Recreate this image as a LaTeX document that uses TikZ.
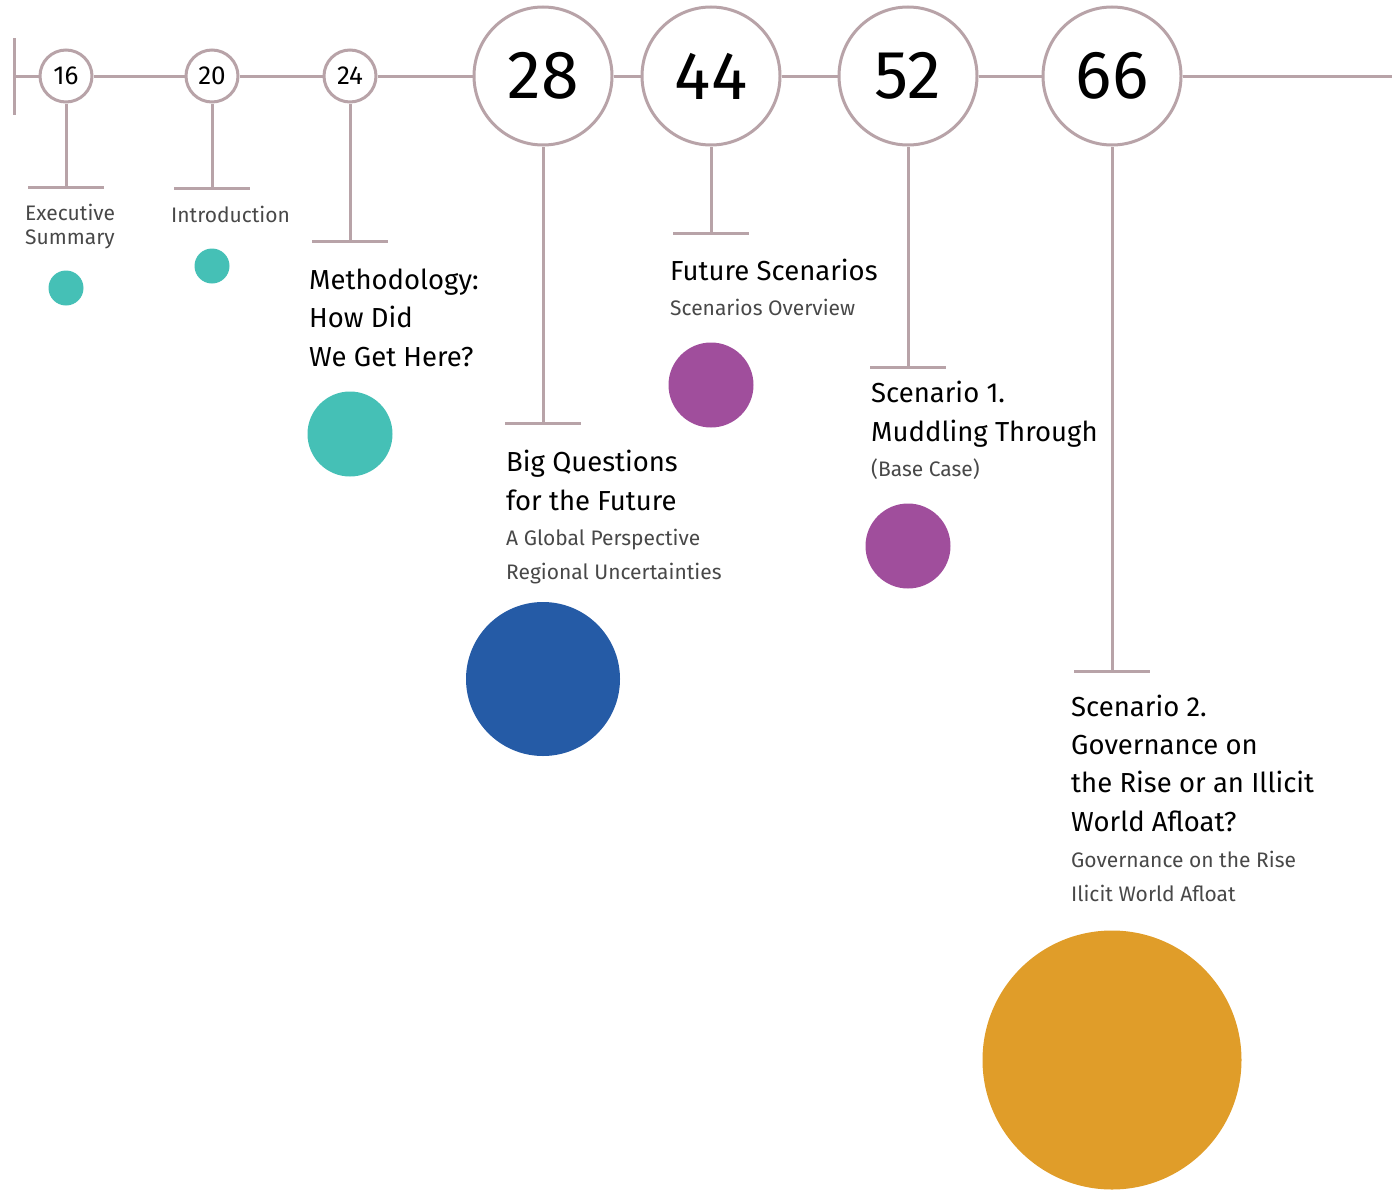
\documentclass[tikz,border=0pt]{standalone}
\usepackage{fontspec}
\setmainfont{Fira Sans}
\definecolor{linec}{HTML}{B8A3A8}
\definecolor{teal}{HTML}{45C0B6}
\definecolor{purp}{HTML}{A04E9C}
\definecolor{blu}{HTML}{255BA6}
\definecolor{orng}{HTML}{E09D29}
\definecolor{subt}{HTML}{484848}
\tikzset{
  tl/.style={draw=linec, line width=3pt},
  smallc/.style={circle, draw=linec, line width=3pt, fill=white, inner sep=0pt, minimum size=52pt, font=\fontsize{26}{26}\selectfont},
  bigc/.style={circle, draw=linec, line width=3pt, fill=white, inner sep=0pt, minimum size=138pt, font=\fontsize{68}{68}\selectfont},
  dot/.style={circle, inner sep=0pt, draw=none},
  ttl/.style={anchor=base west, align=left, inner sep=0pt, text=black, font=\fontsize{27.5}{38.3}\selectfont},
  sub/.style={anchor=base west, align=left, inner sep=0pt, text=subt, font=\fontsize{21}{34}\selectfont},
  smt/.style={anchor=base west, align=left, inner sep=0pt, text=subt, font=\fontsize{21}{24}\selectfont}
}
\begin{document}
\begin{tikzpicture}[x=1pt,y=-1pt]
\useasboundingbox (0,0) rectangle (1392,1191);
% timeline endpoints
\coordinate (start) at (14,76);
\coordinate (tickT) at (14,38);
\coordinate (tickB) at (14,115);
\coordinate (end) at (1392,76);
% circles
\node[smallc] (c16) at (66,76) {16};
\node[smallc] (c20) at (212,76) {20};
\node[smallc] (c24) at (350,76) {24};
\node[bigc] (c28) at (543,76) {28};
\node[bigc] (c44) at (711,76) {44};
\node[bigc] (c52) at (908,76) {52};
\node[bigc] (c66) at (1112,76) {66};
% main line
\draw[tl] (tickT) -- (tickB);
\draw[tl] (start) -- (c16.west);
\draw[tl] (c16.east) -- (c20.west);
\draw[tl] (c20.east) -- (c24.west);
\draw[tl] (c24.east) -- (c28.west);
\draw[tl] (c28.east) -- (c44.west);
\draw[tl] (c44.east) -- (c52.west);
\draw[tl] (c52.east) -- (c66.west);
\draw[tl] (c66.east) -- (end);
% stems and bars
\coordinate (b16) at (66,187);
\coordinate (b20) at (212,188);
\coordinate (b24) at (350,241);
\coordinate (b28) at (543,423);
\coordinate (b44) at (711,233);
\coordinate (b52) at (908,367);
\coordinate (b66) at (1112,671);
\foreach \n in {16,20,24,28,44,52,66}{
  \draw[tl] (c\n.south) -- (b\n);
  \draw[tl] ([xshift=-38pt]b\n) -- ([xshift=38pt]b\n);
}
% dots
\node[dot, fill=teal, minimum size=35pt] (d16) at (66,288) {};
\node[dot, fill=teal, minimum size=35pt] (d20) at (212,266) {};
\node[dot, fill=teal, minimum size=85pt] (d24) at (350,434) {};
\node[dot, fill=blu, minimum size=154pt] (d28) at (543,679) {};
\node[dot, fill=purp, minimum size=85pt] (d44) at (711,385) {};
\node[dot, fill=purp, minimum size=85pt] (d52) at (908,546) {};
\node[dot, fill=orng, minimum size=259pt] (d66) at (1112,1060) {};
% texts (anchor at the baseline of the last line)
\node[smt] (t16) at (25,244) {Executive\\Summary};
\node[smt] (t20) at (171,222) {Introduction};
\node[ttl] (t24) at (309,366) {Methodology:\\How Did\\We Get Here?};
\node[ttl] (t28) at (506,510) {Big Questions\\for the Future};
\node[sub] (s28) at (506,579) {A Global Perspective\\Regional Uncertainties};
\node[ttl] (t44) at (670,280) {Future Scenarios};
\node[sub] (s44) at (670,315) {Scenarios Overview};
\node[ttl] (t52) at (871,441) {Scenario 1.\\Muddling Through};
\node[sub] (s52) at (871,476) {(Base Case)};
\node[ttl] (t66) at (1071,831) {Scenario 2.\\Governance on\\the Rise or an Illicit\\World Afloat?};
\node[sub] (s66) at (1071,901) {Governance on the Rise\\Ilicit World Afloat};
\end{tikzpicture}
\end{document}
